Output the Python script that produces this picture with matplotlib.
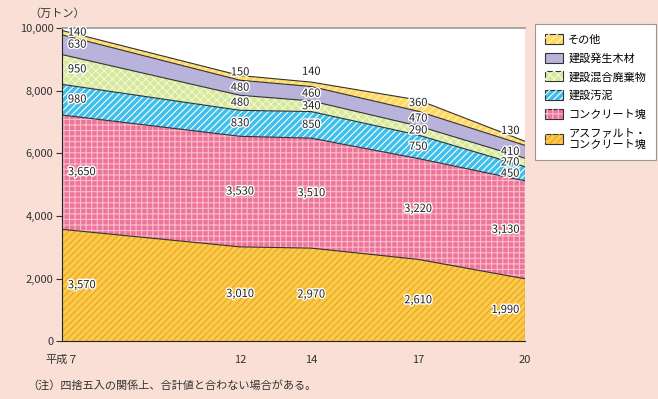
import matplotlib.pyplot as plt
import matplotlib.patheffects as pe
from matplotlib.patches import Patch
from matplotlib.legend_handler import HandlerTuple
import numpy as np

plt.rcParams['font.family'] = ['Noto Sans CJK JP', 'DejaVu Sans']
plt.rcParams['hatch.linewidth'] = 0.8

# data (万トン)
years = [7, 12, 14, 17, 20]
year_labels = ["平成７", "12", "14", "17", "20"]
asphalt = [3570, 3010, 2970, 2610, 1990]
concrete = [3650, 3530, 3510, 3220, 3130]
sludge = [980, 830, 850, 750, 450]
mixed = [950, 480, 340, 290, 270]
wood = [630, 480, 460, 470, 410]
other = [140, 150, 140, 360, 130]

names = ["アスファルト・\nコンクリート塊", "コンクリート塊", "建設汚泥",
         "建設混合廃棄物", "建設発生木材", "その他"]
series = [asphalt, concrete, sludge, mixed, wood, other]
# face colour, hatch colour, hatch
styles = [("#F9CB4A", "#EFA020", "/////"),
          ("#EF7598", "#F9BDD0", "+++"),
          ("#3FBFEC", "#FFFFFF", "/////"),
          ("#D6E89B", "#F2F8D4", "xxxx"),
          ("#B9B2DB", None, ""),
          ("#FFD965", "#FFF3BC", "////")]

bg = "#F9DFD5"
fig = plt.figure(figsize=(6.58, 3.99), dpi=100, facecolor=bg)
ax = fig.add_axes([0.094, 0.145, 0.704, 0.785])
ax.set_facecolor("white")

x = np.array(years, dtype=float)
bottom = np.zeros(len(years))
for vals, (fc, hc, h) in zip(series, styles):
    top = bottom + np.array(vals)
    ax.fill_between(x, bottom, top, facecolor=fc, linewidth=0)
    if h:
        ax.fill_between(x, bottom, top, facecolor="none", edgecolor=hc,
                        hatch=h, linewidth=0)
    ax.plot(x, top, color="#333333", lw=0.8)
    bottom = top
ax.plot([x[-1], x[-1]], [0, bottom[-1]], color="#333333", lw=0.8)

# value labels
stroke = [pe.withStroke(linewidth=2, foreground="white")]
bottom = np.zeros(len(years))
for k, vals in enumerate(series):
    top = bottom + np.array(vals)
    mid = (bottom + top) / 2
    for i, v in enumerate(vals):
        yy = mid[i]
        if k == len(series) - 1:
            if i in (1,):
                yy = top[i] + 100
            elif i in (2, 4):
                yy = top[i] + 330
            elif i == 3:
                yy = mid[i] + 80
        if i == 0:
            xx, ha = x[i] + 0.17, "left"
        elif i == len(years) - 1:
            xx, ha = x[i] - 0.16, "right"
        else:
            xx, ha = x[i], "center"
        ax.text(xx, yy, f"{v:,}", ha=ha, va="center", fontsize=8,
                color="#222222", path_effects=stroke)
    bottom = top

ax.set_xlim(7, 20)
ax.set_ylim(0, 10000)
ax.set_yticks(range(0, 10001, 2000))
ax.set_yticklabels([f"{t:,}" for t in range(0, 10001, 2000)])
ax.set_xticks(years)
ax.set_xticklabels(year_labels)
ax.tick_params(axis="y", direction="out", length=4, labelsize=8,
               colors="#333333", pad=2)
ax.tick_params(axis="x", length=0, labelsize=8, colors="#333333", pad=10)
ax.spines["right"].set_visible(False)
ax.spines["top"].set_color("#999999")
ax.spines["top"].set_linewidth(1.2)
ax.spines["left"].set_color("#222222")
ax.spines["bottom"].set_color("#222222")

fig.text(0.045, 0.965, "（万トン）", fontsize=8, color="#333333",
         ha="left", va="center")
fig.text(0.042, 0.035, "（注）四捨五入の関係上、合計値と合わない場合がある。",
         fontsize=8, color="#333333", ha="left", va="center")

handles = []
for fc, hc, h in styles:
    base = Patch(facecolor=fc, edgecolor="#333333", linewidth=0.8)
    if h:
        hat = Patch(facecolor="none", edgecolor=hc, hatch=h, linewidth=0)
        handles.append((base, hat))
    else:
        handles.append(base)
leg = fig.legend(handles[::-1], names[::-1], loc="upper left",
                 bbox_to_anchor=(0.813, 0.94), borderaxespad=0,
                 fontsize=8, frameon=True,
                 fancybox=False, edgecolor="#999999", framealpha=1,
                 handlelength=1.6, handleheight=1.0, labelspacing=0.72,
                 handletextpad=0.5, borderpad=0.9,
                 handler_map={tuple: HandlerTuple(ndivide=1, pad=0)})
leg.get_frame().set_linewidth(0.8)

fig.savefig("out.png", dpi=100, facecolor=bg)
